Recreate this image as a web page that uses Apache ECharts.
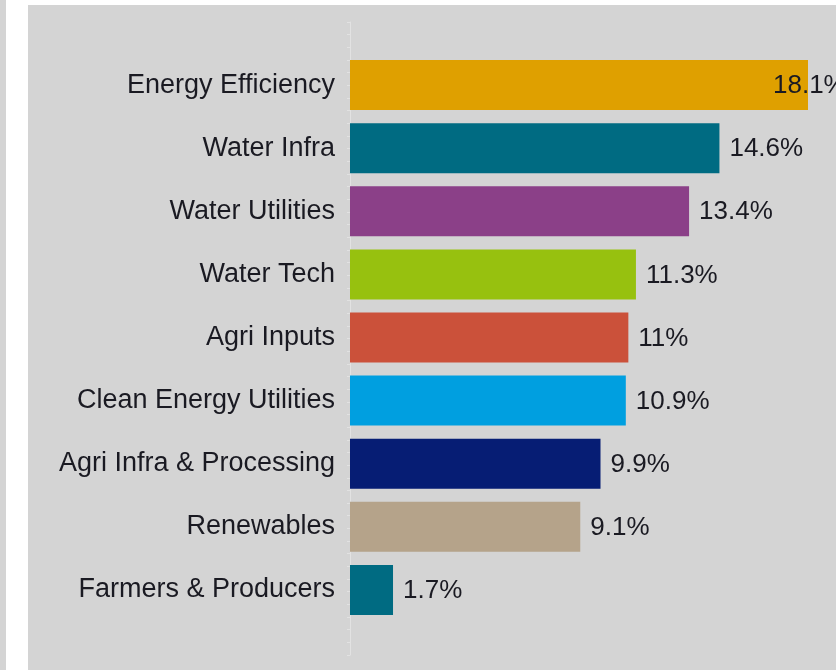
<!DOCTYPE html>
<html>
<head>
<meta charset="utf-8">
<script src="https://cdn.jsdelivr.net/npm/echarts@6/dist/echarts.min.js"></script>
<style>
  html, body { margin: 0; padding: 0; background: #ffffff; width: 836px; height: 670px; overflow: hidden; }
  #edge { position: absolute; left: 0; top: 0; width: 6px; height: 670px; background: #d4d4d4; }
  #chart { position: absolute; left: 28px; top: 5px; width: 808px; height: 665px; background: #d4d4d4; }
</style>
</head>
<body>
<div id="edge"></div>
<div id="chart"></div>
<script>
// Sector weights (%)
const categories = [
  'Energy Efficiency',
  'Water Infra',
  'Water Utilities',
  'Water Tech',
  'Agri Inputs',
  'Clean Energy Utilities',
  'Agri Infra & Processing',
  'Renewables',
  'Farmers & Producers'
];
const values = [18.1, 14.6, 13.4, 11.3, 11, 10.9, 9.9, 9.1, 1.7];
const colors = ['#dfa000', '#006b82', '#8b4088', '#97c10f', '#cb513a', '#009fe0', '#061d74', '#b5a38a', '#006b82'];

const FONT = '"Liberation Sans", Arial, sans-serif';
const TEXT = '#1a1a22';

const chart = echarts.init(document.getElementById('chart'), null, { renderer: 'canvas' });

const barData = values.map((v, i) => {
  const item = { value: v, itemStyle: { color: colors[i] } };
  // the widest bar runs to the edge, so its label is pulled back over the bar
  if (i === 0) item.label = { offset: [-45, 1] };
  return item;
});

chart.setOption({
  animation: false,
  backgroundColor: '#d4d4d4',
  grid: [
    { left: 322, right: 28, top: 48.5, bottom: 48.5, containLabel: false },
    { left: 322, width: 1, top: 17, bottom: 15, containLabel: false }
  ],
  xAxis: [
    { gridIndex: 0, type: 'value', min: 0, max: 'dataMax', show: false },
    { gridIndex: 1, type: 'value', min: 0, max: 1, show: false }
  ],
  yAxis: [
    {
      gridIndex: 0,
      type: 'category',
      data: categories,
      inverse: true,
      axisLine: { show: false },
      axisTick: { show: false },
      axisLabel: { color: TEXT, fontFamily: FONT, fontSize: 27, margin: 15, padding: [5, 0, 0, 0] }
    },
    {
      // pale vertical baseline with fine tick marks
      gridIndex: 1,
      type: 'value',
      min: 0, max: 50, interval: 1,
      axisLine: { show: true, lineStyle: { color: '#e2e2e2', width: 1 } },
      axisTick: { show: true, length: 3, lineStyle: { color: '#e2e2e2' } },
      axisLabel: { show: false },
      splitLine: { show: false }
    }
  ],
  series: [{
    type: 'bar',
    xAxisIndex: 0,
    yAxisIndex: 0,
    data: barData,
    barWidth: 50,
    label: {
      show: true,
      position: 'right',
      distance: 10,
      color: TEXT,
      fontFamily: FONT,
      fontSize: 26,
      offset: [0, 1],
      formatter: p => p.value + '%'
    }
  }]
});
</script>
</body>
</html>
